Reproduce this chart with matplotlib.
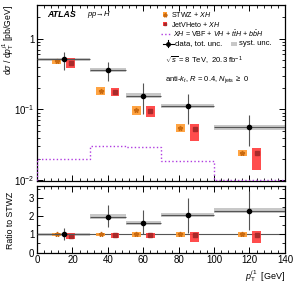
import numpy as np
import matplotlib
matplotlib.use("Agg")
import matplotlib.pyplot as plt
from matplotlib.patches import Rectangle
from matplotlib.ticker import MultipleLocator, FixedLocator, FixedFormatter, LogLocator, NullFormatter

plt.rcParams['font.family'] = ['Liberation Sans', 'DejaVu Sans']
plt.rcParams['mathtext.fontset'] = 'custom'
plt.rcParams['mathtext.rm'] = 'Liberation Sans'
plt.rcParams['mathtext.it'] = 'Liberation Sans:italic'
plt.rcParams['mathtext.bf'] = 'Liberation Sans:bold'

# ---------------- data ----------------
bin_edges = [0, 30, 50, 70, 100, 140]
bin_centers = [15, 40, 60, 85, 120]

data_val = [0.515, 0.36, 0.155, 0.112, 0.0565]
data_tot_lo = [0.355, 0.25, 0.086, 0.062, 0.030]
data_tot_hi = [0.65, 0.47, 0.235, 0.166, 0.083]
data_syst_lo = [0.475, 0.337, 0.146, 0.105, 0.051]
data_syst_hi = [0.54, 0.39, 0.17, 0.12, 0.060]

stwz_val = [0.48, 0.183, 0.097, 0.055, 0.0245]
stwz_lo = [0.44, 0.16, 0.083, 0.048, 0.022]
stwz_hi = [0.52, 0.204, 0.112, 0.0617, 0.027]

jvh_val = [0.445, 0.178, 0.094, 0.052, 0.024]
jvh_lo = [0.38, 0.155, 0.079, 0.036, 0.0139]
jvh_hi = [0.53, 0.20, 0.11, 0.062, 0.028]

xh_val = [0.0198, 0.0305, 0.0297, 0.0187, 0.0099]

# ratio panel
r_data = [1.03, 1.98, 1.63, 2.07, 2.32]
r_data_lo = [0.70, 1.41, 1.00, 1.06, 1.22]
r_data_hi = [1.33, 2.63, 2.36, 3.00, 3.39]
r_syst_lo = [0.94, 1.88, 1.53, 1.94, 2.17]
r_syst_hi = [1.10, 2.13, 1.73, 2.20, 2.47]

r_stwz = [1.0, 1.0, 1.0, 1.0, 1.0]
r_stwz_lo = [0.91, 0.89, 0.88, 0.88, 0.88]
r_stwz_hi = [1.08, 1.10, 1.12, 1.11, 1.11]

r_jvh = [0.93, 0.95, 0.95, 0.95, 0.95]
r_jvh_lo = [0.75, 0.80, 0.80, 0.60, 0.50]
r_jvh_hi = [1.09, 1.09, 1.08, 1.15, 1.20]

# ---------------- style ----------------
theory_offset = 4.0
box_w = 5.0
orange = '#ff9a2e'
orange_dark = '#c96a10'
red = '#ff3a3a'
red_dark = '#a82a2a'
grey_band = '#c8c8c8'
purple = '#b03ce0'

fig = plt.figure(figsize=(2.94, 2.86), dpi=100)
ax = fig.add_axes([0.126, 0.367, 0.843, 0.616])
axr = fig.add_axes([0.126, 0.117, 0.843, 0.231])

def draw_panel(a, val, lo, hi, slo, shi, sv, sl, sh, jv, jl, jh):
    for i in range(len(bin_centers)):
        x0, x1 = bin_edges[i], bin_edges[i + 1]
        c = bin_centers[i]
        a.add_patch(Rectangle((x0, slo[i]), x1 - x0, shi[i] - slo[i],
                              facecolor=grey_band, edgecolor='none', zorder=2))
        a.add_patch(Rectangle((c - theory_offset - box_w / 2, sl[i]), box_w, sh[i] - sl[i],
                              facecolor=orange, edgecolor='none', alpha=0.9, zorder=3))
        a.add_patch(Rectangle((c + theory_offset - box_w / 2, jl[i]), box_w, jh[i] - jl[i],
                              facecolor=red, edgecolor='none', alpha=0.9, zorder=3))
    sc = [c - theory_offset for c in bin_centers]
    jc = [c + theory_offset for c in bin_centers]
    a.plot(sc, sv, linestyle='none', marker='*', ms=3.5, color=orange_dark, zorder=4)
    a.plot(jc, jv, linestyle='none', marker='s', ms=2.8, color=red_dark, zorder=4)
    xerr = [[c - bin_edges[i] for i, c in enumerate(bin_centers)],
            [bin_edges[i + 1] - c for i, c in enumerate(bin_centers)]]
    yerr = [[v - l for v, l in zip(val, lo)], [h - v for v, h in zip(val, hi)]]
    a.errorbar(bin_centers, val, xerr=xerr, yerr=yerr, fmt='o', ms=3, color='black',
               ecolor='#555555', elinewidth=0.8, capsize=0, zorder=5)

draw_panel(ax, data_val, data_tot_lo, data_tot_hi, data_syst_lo, data_syst_hi,
           stwz_val, stwz_lo, stwz_hi, jvh_val, jvh_lo, jvh_hi)
ax.stairs(xh_val, bin_edges, color=purple, linestyle=':', linewidth=1.0, zorder=3)

ax.set_yscale('log')
ax.set_xlim(0, 140)
ax.set_ylim(0.0097, 3.0)
ax.yaxis.set_major_locator(FixedLocator([0.01, 0.1, 1]))
ax.yaxis.set_major_formatter(FixedFormatter(['$10^{-2}$', '$10^{-1}$', '1']))
ax.yaxis.set_minor_locator(LogLocator(base=10, subs=np.arange(2, 10)))
ax.yaxis.set_minor_formatter(NullFormatter())
ax.xaxis.set_major_locator(MultipleLocator(20))
ax.xaxis.set_minor_locator(MultipleLocator(4))
ax.tick_params(labelbottom=False)
ax.set_ylabel(r'd$\sigma$ / d$p_{\mathrm{T}}^{j1}$ [pb/GeV]', loc='top', fontsize=6.2)
ax.yaxis.set_label_coords(-0.086, 1.0)

draw_panel(axr, r_data, r_data_lo, r_data_hi, r_syst_lo, r_syst_hi,
           r_stwz, r_stwz_lo, r_stwz_hi, r_jvh, r_jvh_lo, r_jvh_hi)
axr.axhline(1.0, color='#555555', linewidth=0.8, zorder=1)
axr.set_xlim(0, 140)
axr.set_ylim(0, 3.65)
axr.yaxis.set_major_locator(MultipleLocator(1))
axr.yaxis.set_minor_locator(MultipleLocator(0.5))
axr.xaxis.set_major_locator(MultipleLocator(20))
axr.xaxis.set_minor_locator(MultipleLocator(4))
axr.set_ylabel('Ratio to STWZ', fontsize=6.3)
axr.yaxis.set_label_coords(-0.09, 0.48)
axr.set_xlabel(r'$p_{\mathrm{T}}^{j1}$  [GeV]', loc='right', fontsize=6.5, labelpad=2)

for a in (ax, axr):
    a.tick_params(which='both', direction='in', top=True, right=True, labelsize=7, pad=2)
    a.tick_params(which='major', length=4, width=0.7)
    a.tick_params(which='minor', length=2, width=0.6)
    for s in a.spines.values():
        s.set_linewidth(0.9)

# ---------------- annotations ----------------
fs = 5.1
T = ax.transAxes
ax.text(0.04, 0.943, 'ATLAS', transform=T, fontsize=6.3, fontweight='bold',
        fontstyle='italic', va='center')
ax.text(0.2, 0.943, r'$pp\!\rightarrow\!H$', transform=T, fontsize=5.5, va='center')

mx = 0.516
tx = 0.54
bw, bh = 0.018, 0.026
# STWZ
ax.add_patch(Rectangle((mx - bw / 2, 0.945 - bh / 2), bw, bh, transform=T,
                       facecolor=orange, edgecolor='none'))
ax.plot([mx], [0.945], transform=T, marker='*', ms=2.8, color=orange_dark)
ax.text(tx, 0.945, r'STWZ + $XH$', transform=T, fontsize=fs, va='center')
# JetVHeto
ax.add_patch(Rectangle((mx - bw / 2, 0.891 - bh / 2), bw, bh, transform=T,
                       facecolor=red, edgecolor='none'))
ax.plot([mx], [0.891], transform=T, marker='s', ms=2.0, color=red_dark)
ax.text(tx, 0.891, r'JetVHeto + $XH$', transform=T, fontsize=fs, va='center')
# XH
ax.plot([0.5, 0.536], [0.837, 0.837], transform=T, color=purple,
        linestyle=':', linewidth=1.0)
ax.text(0.547, 0.837, r'$XH$ = VBF + $VH$ + $t\bar{t}H$ + $b\bar{b}H$',
        transform=T, fontsize=fs, va='center')
# data
ax.plot([0.507, 0.553], [0.779, 0.779], transform=T, color='black', lw=0.8)
ax.plot([0.53, 0.53], [0.760, 0.798], transform=T, color='black', lw=0.8)
ax.plot([0.53], [0.779], transform=T, marker='o', ms=2.5, color='black')
ax.text(0.558, 0.779, 'data, tot. unc.', transform=T, fontsize=5.6, va='center')
ax.add_patch(Rectangle((0.782, 0.768), 0.025, 0.022, transform=T,
                       facecolor=grey_band, edgecolor='none'))
ax.text(0.815, 0.779, 'syst. unc.', transform=T, fontsize=5.6, va='center')

ax.text(mx, 0.684, r'$\sqrt{s}$ = 8 TeV,  20.3 fb$^{-1}$', transform=T,
        fontsize=5.5, va='center')
ax.text(mx, 0.574, r'anti-$k_{t}$, $R$ = 0.4, $N_{\mathrm{jets}}$ $\geq$ 0',
        transform=T, fontsize=5.5, va='center')

fig.savefig('out.png', dpi=100)
